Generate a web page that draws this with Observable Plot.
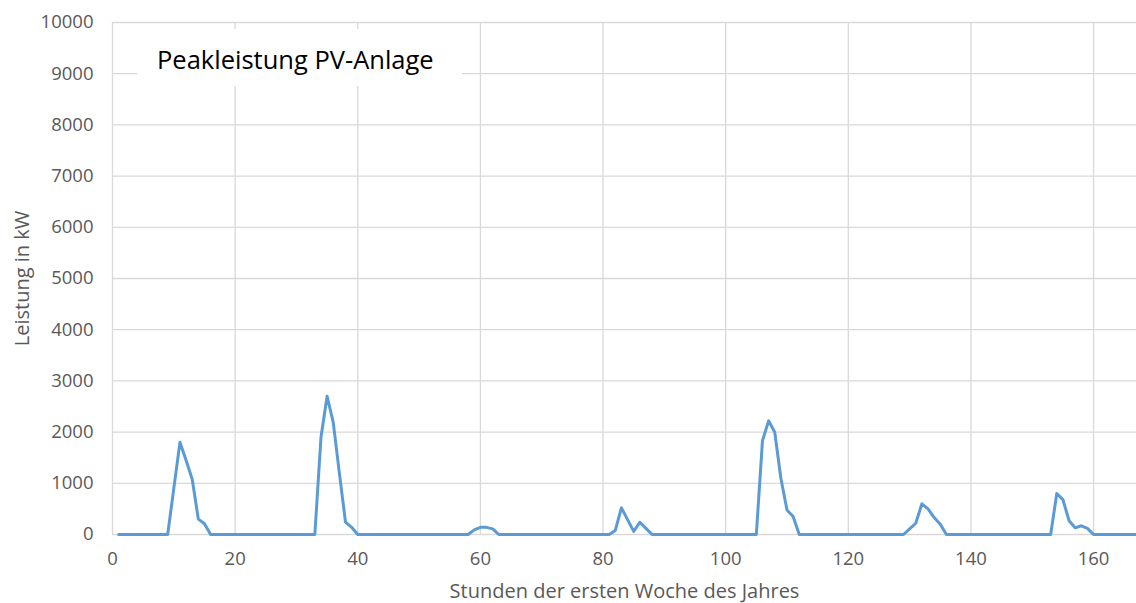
<!DOCTYPE html>
<html>
<head>
<meta charset="utf-8">
<script src="https://cdn.jsdelivr.net/npm/d3@7"></script>
<script src="https://cdn.jsdelivr.net/npm/@observablehq/plot@0.6"></script>
<style>
  html, body { margin: 0; padding: 0; background: #fff; }
  #wrap { position: relative; width: 1136px; height: 603px; font-family: "Open Sans", "Noto Sans", sans-serif; }
  #title { position: absolute; left: 137px; top: 29px; width: 325px; height: 57px; background: #fff;
           font-size: 25.5px; color: #000; line-height: 60px; box-sizing: border-box; padding-left: 20px; white-space: nowrap; }
</style>
</head>
<body>
<div id="wrap"><div id="title">Peakleistung PV-Anlage</div></div>
<script>
const titleText = "Peakleistung PV-Anlage";
const xLabel = "Stunden der ersten Woche des Jahres";
const yLabel = "Leistung in kW";
const xTicks = [0, 20, 40, 60, 80, 100, 120, 140, 160];
const yTicks = [0, 1000, 2000, 3000, 4000, 5000, 6000, 7000, 8000, 9000, 10000];

// hourly PV output (kW), hour 1 .. 168
const power = [
  0,0,0,0,0,0,0,0,0,900,1800,1450,1080,300,210,0,0,0,0,0,0,0,0,0,
  0,0,0,0,0,0,0,0,0,1900,2700,2190,1200,240,140,0,0,0,0,0,0,0,0,0,
  0,0,0,0,0,0,0,0,0,0,90,140,140,110,0,0,0,0,0,0,0,0,0,0,
  0,0,0,0,0,0,0,0,0,80,520,290,60,240,120,0,0,0,0,0,0,0,0,0,
  0,0,0,0,0,0,0,0,0,1830,2220,2000,1100,480,350,0,0,0,0,0,0,0,0,0,
  0,0,0,0,0,0,0,0,0,110,220,600,500,330,200,0,0,0,0,0,0,0,0,0,
  0,0,0,0,0,0,0,0,0,800,680,270,130,170,120,0,0,0,0,0,0,0,0,0
];
const hours = power.map((_, i) => i + 1);
const data = hours.map((h, i) => ({hour: h, kw: power[i]}));

const grid = "#d9d9d9";
const txt = "#595959";

const chart = Plot.plot({
  width: 1136,
  height: 603,
  marginLeft: 112,
  marginRight: 0,
  marginTop: 22,
  marginBottom: 69,
  style: {fontFamily: "'Open Sans', 'Noto Sans', sans-serif", fontSize: "18px", color: txt, background: "transparent"},
  x: {domain: [0, 167], ticks: xTicks, label: null},
  y: {domain: [0, 10000], ticks: yTicks, label: null},
  marks: [
    Plot.gridX(xTicks, {stroke: grid, strokeOpacity: 1, strokeWidth: 1.3}),
    Plot.gridY(yTicks, {stroke: grid, strokeOpacity: 1, strokeWidth: 1.3}),
    Plot.axisX(xTicks, {tickSize: 0, tickPadding: 17, fill: txt, fontSize: 18.5, tickFormat: d => String(d)}),
    Plot.axisY(yTicks, {tickSize: 0, tickPadding: 19, fill: txt, fontSize: 18.5, tickFormat: d => String(d)}),
    Plot.line(data, {x: "hour", y: "kw", stroke: "#5b9bd5", strokeWidth: 3, strokeLinejoin: "round"}),
    Plot.text([yLabel], {frameAnchor: "left", textAnchor: "middle", dx: -90, rotate: -90, fill: txt, fontSize: 20}),
    Plot.text([xLabel], {frameAnchor: "bottom", textAnchor: "middle", dy: 63, fill: txt, fontSize: 20})
  ]
});
document.getElementById("wrap").insertBefore(chart, document.getElementById("title"));
document.getElementById("title").textContent = titleText;
</script>
</body>
</html>
